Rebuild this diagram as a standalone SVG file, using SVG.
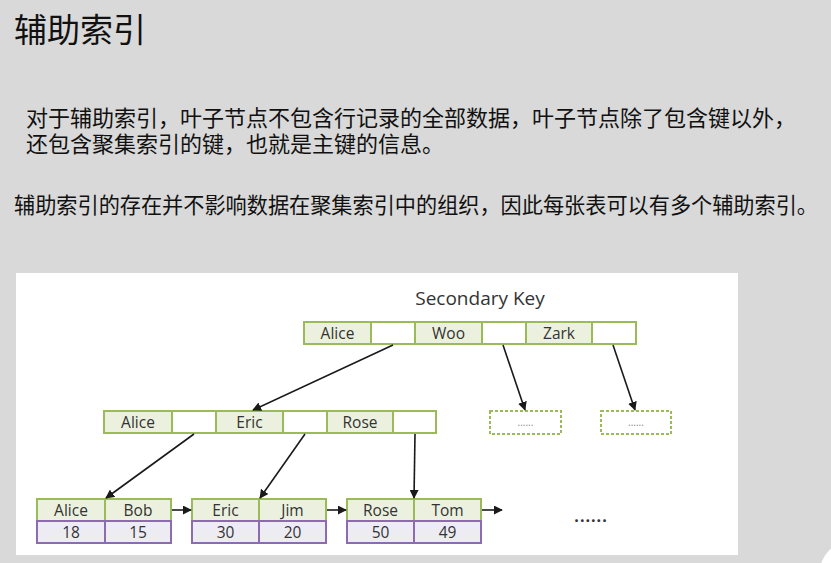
<svg xmlns="http://www.w3.org/2000/svg" width="831" height="563" viewBox="0 0 831 563">
<defs>
<marker id="ah" viewBox="0 0 10 10" refX="9" refY="5" markerWidth="9" markerHeight="9" markerUnits="userSpaceOnUse" orient="auto">
<path d="M0,0 L10,5 L0,10 z" fill="#1a1a1a"/>
</marker>
<style>
.cn{font-family:"Noto Sans CJK SC","Noto Sans",sans-serif;fill:#111}
.k{fill:#EBF1DE;stroke:#9BBB59;stroke-width:2}
.p{fill:#FFFFFF;stroke:#9BBB59;stroke-width:2}
.v{fill:#EEECF3;stroke:#8C6BB1;stroke-width:2}
.t{font-family:"Open Sans","Noto Sans",sans-serif;font-size:15.5px;fill:#333;text-anchor:middle}
.d{fill:#FFFFFF;stroke:#9BBB59;stroke-width:2;stroke-dasharray:3,2}
.dt{font-family:"Open Sans",sans-serif;font-size:10px;fill:#888;text-anchor:middle}
.c{stroke:#1a1a1a;stroke-width:1.6;fill:none;marker-end:url(#ah)}
</style>
</defs>
<rect width="831" height="563" fill="#D9D9D9"/>
<circle cx="850" cy="572" r="30" fill="#FFFFFF"/>
<text class="cn" x="14" y="42" font-size="33">辅助索引</text>
<text class="cn" x="26" y="126" font-size="22">对于辅助索引，叶子节点不包含行记录的全部数据，叶子节点除了包含键以外，</text>
<text class="cn" x="26" y="151.5" font-size="22">还包含聚集索引的键，也就是主键的信息。</text>
<text class="cn" x="14" y="213" font-size="21.5" textLength="804" lengthAdjust="spacingAndGlyphs">辅助索引的存在并不影响数据在聚集索引中的组织，因此每张表可以有多个辅助索引。</text>
<rect x="16" y="273" width="722" height="282" fill="#FFFFFF"/>
<text x="480" y="305" font-family="Open Sans, Noto Sans, sans-serif" font-size="19" fill="#333" text-anchor="middle">Secondary Key</text>

<g id="root">
<rect class="k" x="304" y="322" width="67" height="22"/>
<rect class="p" x="371" y="322" width="44" height="22"/>
<rect class="k" x="415" y="322" width="67" height="22"/>
<rect class="p" x="482" y="322" width="44" height="22"/>
<rect class="k" x="526" y="322" width="66" height="22"/>
<rect class="p" x="592" y="322" width="44" height="22"/>
<text class="t" x="337.5" y="338.5">Alice</text>
<text class="t" x="448.5" y="338.5">Woo</text>
<text class="t" x="559" y="338.5">Zark</text>
</g>

<g id="mid">
<rect class="k" x="104" y="411" width="68" height="22"/>
<rect class="p" x="172" y="411" width="44" height="22"/>
<rect class="k" x="216" y="411" width="67" height="22"/>
<rect class="p" x="283" y="411" width="44" height="22"/>
<rect class="k" x="327" y="411" width="66" height="22"/>
<rect class="p" x="393" y="411" width="43" height="22"/>
<text class="t" x="138" y="427.5">Alice</text>
<text class="t" x="249.5" y="427.5">Eric</text>
<text class="t" x="360" y="427.5">Rose</text>
</g>

<g id="dots1">
<rect class="d" x="490" y="411" width="71" height="23"/>
<text class="dt" x="525.5" y="426">......</text>
</g>
<g id="dots2">
<rect class="d" x="601" y="411" width="70" height="23"/>
<text class="dt" x="636" y="426">......</text>
</g>

<g id="leaf1">
<rect class="k" x="37" y="499" width="68" height="22"/>
<rect class="k" x="105" y="499" width="66" height="22"/>
<rect class="v" x="37" y="521" width="68" height="22"/>
<rect class="v" x="105" y="521" width="66" height="22"/>
<text class="t" x="71" y="515.5">Alice</text>
<text class="t" x="138" y="515.5">Bob</text>
<text class="t" x="71" y="537.5">18</text>
<text class="t" x="138" y="537.5">15</text>
</g>
<g id="leaf2">
<rect class="k" x="192" y="499" width="67" height="22"/>
<rect class="k" x="259" y="499" width="67" height="22"/>
<rect class="v" x="192" y="521" width="67" height="22"/>
<rect class="v" x="259" y="521" width="67" height="22"/>
<text class="t" x="225.5" y="515.5">Eric</text>
<text class="t" x="292.5" y="515.5">Jim</text>
<text class="t" x="225.5" y="537.5">30</text>
<text class="t" x="292.5" y="537.5">20</text>
</g>
<g id="leaf3">
<rect class="k" x="347" y="499" width="67" height="22"/>
<rect class="k" x="414" y="499" width="67" height="22"/>
<rect class="v" x="347" y="521" width="67" height="22"/>
<rect class="v" x="414" y="521" width="67" height="22"/>
<text class="t" x="380.5" y="515.5">Rose</text>
<text class="t" x="447.5" y="515.5">Tom</text>
<text class="t" x="380.5" y="537.5">50</text>
<text class="t" x="447.5" y="537.5">49</text>
</g>
<g id="more">
<text x="591" y="522" font-family="Open Sans, sans-serif" font-size="16" font-weight="bold" fill="#333" text-anchor="middle" letter-spacing="1">......</text>
</g>

<g id="connectors">
<line class="c" x1="393" y1="345" x2="253" y2="410"/>
<line class="c" x1="503" y1="345" x2="525" y2="410"/>
<line class="c" x1="613" y1="345" x2="635" y2="410"/>
<line class="c" x1="194" y1="434" x2="106" y2="498"/>
<line class="c" x1="305" y1="434" x2="260" y2="498"/>
<line class="c" x1="415" y1="434" x2="414" y2="498"/>
<line class="c" x1="172" y1="510" x2="191" y2="510"/>
<line class="c" x1="327" y1="510" x2="346" y2="510"/>
<line class="c" x1="482" y1="510" x2="502" y2="510"/>
</g>
</svg>
